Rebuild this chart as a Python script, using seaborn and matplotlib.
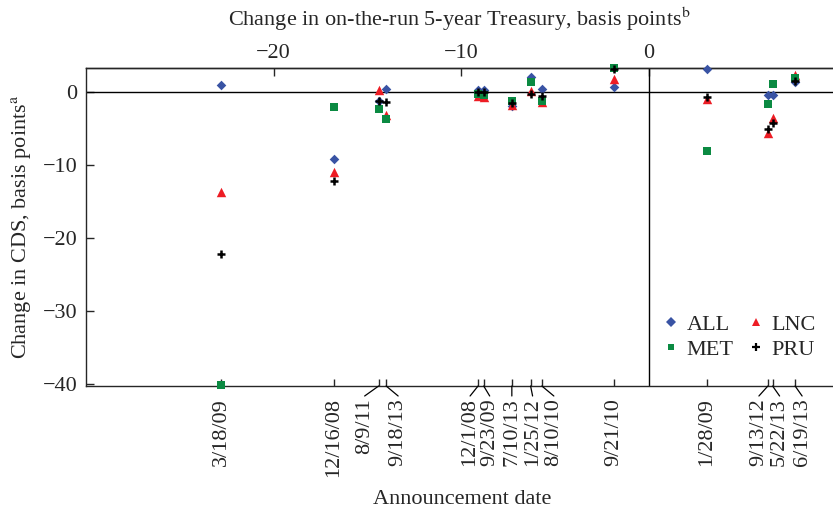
import pandas as pd
import numpy as np
import matplotlib.pyplot as plt
import seaborn as sns
from matplotlib.lines import Line2D

# ---------------- data ----------------
dates = ["3/18/09", "12/16/08", "8/9/11", "9/18/13", "12/1/08", "9/23/09", "7/10/13",
         "1/25/12", "8/10/10", "9/21/10", "1/28/09", "9/13/12", "5/22/13", "6/19/13"]
treasury = [-22.8, -16.8, -14.4, -14.0, -9.1, -8.8, -7.3, -6.3, -5.7, -1.85, 3.1, 6.35, 6.6, 7.8]

all_cds = [0.9, -9.2, -1.2, 0.4, 0.2, 0.3, -2.0, 2.1, 0.4, 0.7, 3.15, -0.4, -0.4, 1.3]
lnc_cds = [-13.7, -11.0, 0.2, -3.1, -0.6, -0.7, -1.8, 0.1, -1.4, 1.7, -1.0, -5.6, -3.6, 2.3]
met_cds = [-40.2, -2.1, -2.3, -3.7, -0.3, -0.4, -1.2, 1.4, -1.2, 3.25, -8.1, -1.6, 1.1, 1.9]
pru_cds = [-22.2, -12.2, -1.3, -1.4, 0.0, 0.0, -1.5, -0.3, -0.5, 3.1, -0.7, -5.1, -4.2, 1.5]

series = ["ALL", "LNC", "MET", "PRU"]
values = [all_cds, lnc_cds, met_cds, pru_cds]

# label shifts (pixels) for crowded date labels, and whether a leader line is drawn
label_dx = [0, 0, -14, 12, -8, 6, 0, 2, 12, 0, 0, -9, 7, 7]
leader = [False, False, True, True, True, True, True, True, True, False, False, True, True, True]

df = pd.concat([pd.DataFrame({"treasury": treasury, "cds": v, "firm": s})
                for s, v in zip(series, values)], ignore_index=True)

# ---------------- style ----------------
sns.set_style("ticks")
plt.rcParams["font.family"] = ["Liberation Serif", "DejaVu Serif"]
plt.rcParams["mathtext.fontset"] = "stix"
plt.rcParams["axes.linewidth"] = 1.0
FS = 16

colors = {"ALL": "#3953a4", "LNC": "#ed1c24", "MET": "#0b8a42", "PRU": "black"}
markers = {"ALL": "D", "LNC": "^", "MET": "s", "PRU": "+"}
sizes = {"ALL": 24, "LNC": 46, "MET": 30, "PRU": 34}

fig = plt.figure(figsize=(8.33, 5.12), dpi=100)
ax = fig.add_axes([86 / 833, 1 - 386 / 512, 1 - 86 / 833, (386 - 68.3) / 512])

for s in series:
    sub = df[df.firm == s]
    if markers[s] == "+":
        sns.scatterplot(data=sub, x="treasury", y="cds", marker="+", color=colors[s],
                        s=sizes[s], linewidth=1.8, ax=ax, zorder=4, clip_on=False)
    else:
        sns.scatterplot(data=sub, x="treasury", y="cds", marker=markers[s], color=colors[s],
                        s=sizes[s], linewidth=0, ax=ax, zorder=3, clip_on=False)

ax.axhline(0, color="black", lw=1.0, zorder=2)
ax.axvline(0, color="black", lw=1.0, zorder=2)

ax.set_xlim(-30, 9.82)
ax.set_ylim(-40.27, 3.23)
ax.spines["right"].set_visible(False)

# y axis
ax.set_yticks([0, -10, -20, -30, -40])
ax.set_yticklabels(["0", "\u221210", "\u221220", "\u221230", "\u221240"])
ax.tick_params(axis="y", direction="in", length=6, width=1, labelsize=FS, pad=6)
ax.set_ylabel(r"Change in CDS, basis points$^{\mathrm{a}}$", fontsize=FS)
ax.yaxis.set_label_coords(-0.071, 0.5)

# bottom axis: announcement dates
ax.set_xticks(treasury)
ax.set_xticklabels([""] * len(treasury))
ax.tick_params(axis="x", direction="in", length=5, width=1)
ax.set_xlabel("")
for x, lab, dx, ld in zip(treasury, dates, label_dx, leader):
    ax.annotate(lab, xy=(x, 0), xycoords=("data", "axes fraction"),
                xytext=(dx, -12), textcoords="offset pixels",
                rotation=90, ha="center", va="top", fontsize=FS, annotation_clip=False)
    if ld:
        ax.annotate("", xy=(x, 0), xycoords=("data", "axes fraction"),
                    xytext=(dx, -10), textcoords="offset pixels", annotation_clip=False,
                    arrowprops=dict(arrowstyle="-", lw=0.9, color="black",
                                    shrinkA=0, shrinkB=0))
fig.text(462 / 833, 1 - 499 / 512, "Announcement date", ha="center", va="center", fontsize=FS)

# top axis: treasury change
top = ax.secondary_xaxis("top")
top.set_xticks([-20, -10, 0])
top.set_xticklabels(["\u221220", "\u221210", "0"])
top.tick_params(direction="in", length=6, width=1, labelsize=FS, pad=4)
top.set_xlabel(r"Change in on-the-run 5-year Treasury, basis points$^{\mathrm{b}}$",
               fontsize=FS, labelpad=13)

# legend
handles = [Line2D([], [], ls="", marker="D", color=colors["ALL"], markersize=5, mew=0),
           Line2D([], [], ls="", marker="s", color=colors["MET"], markersize=5, mew=0),
           Line2D([], [], ls="", marker="^", color=colors["LNC"], markersize=6, mew=0),
           Line2D([], [], ls="", marker="+", color="black", markersize=6, mew=1.6)]
ax.legend(handles, ["ALL", "MET", "LNC", "PRU"], ncol=2, loc="lower right",
          bbox_to_anchor=(1.004, 0.02), frameon=False, fontsize=FS,
          handlelength=0.8, handletextpad=0.3, columnspacing=0.6, labelspacing=0.2)

fig.savefig("out.png", dpi=100)
